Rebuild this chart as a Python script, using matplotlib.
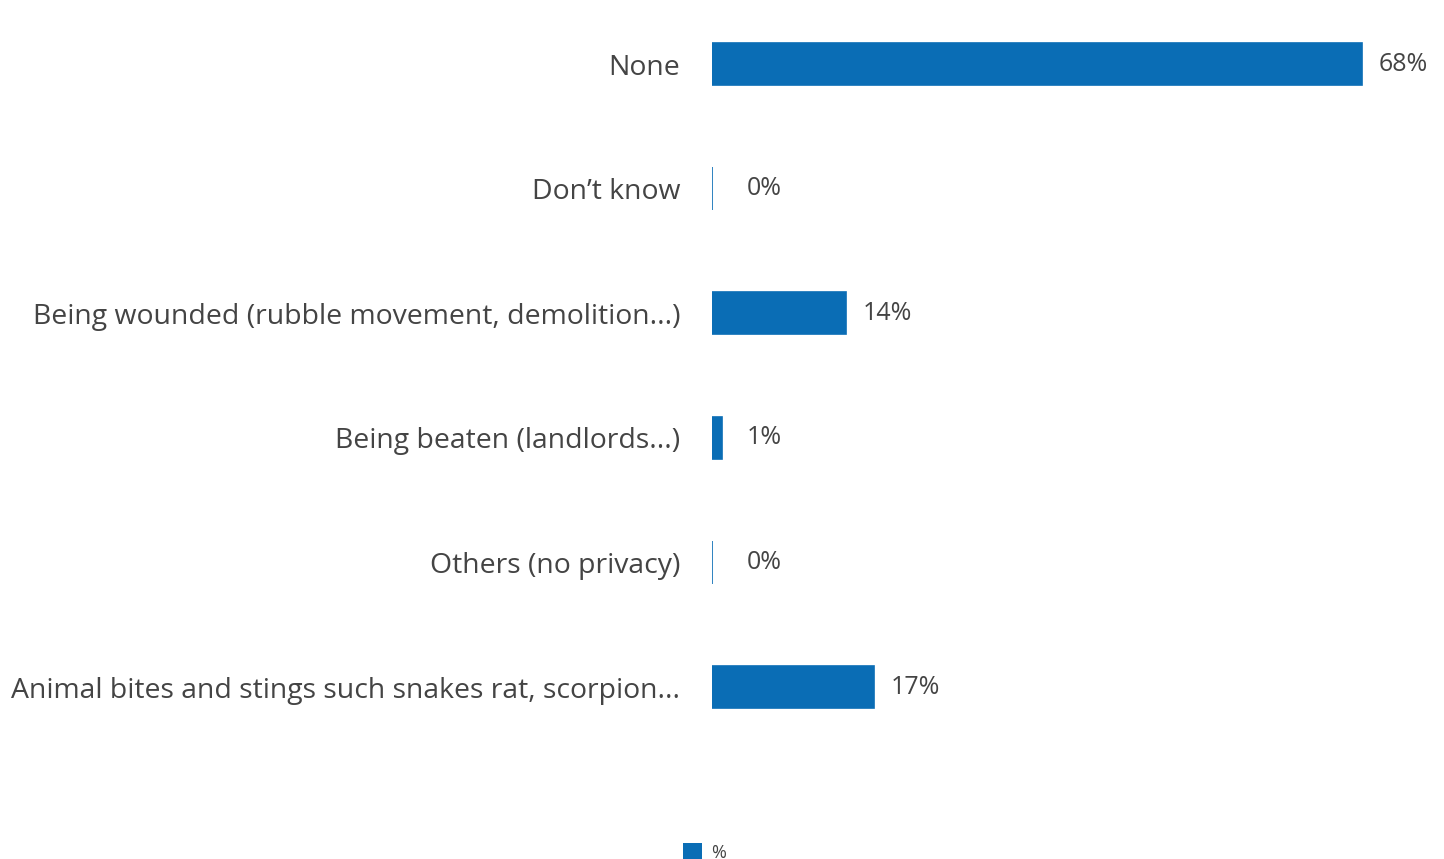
import matplotlib.pyplot as plt
from matplotlib.patches import Patch

categories = [
    'None',
    'Don\u2019t know',
    'Being wounded (rubble movement, demolition...)',
    'Being beaten (landlords...)',
    'Others (no privacy)',
    'Animal bites and stings such snakes rat, scorpion...',
]
values = [68, 0, 14, 1, 0, 17]
value_labels = ['68%', '0%', '14%', '1%', '0%', '17%']

BLUE = '#0a6db5'
GREY = '#444444'

plt.rcParams['font.family'] = ['Open Sans', 'DejaVu Sans']

fig = plt.figure(figsize=(14.44, 8.59), dpi=100)
ax = fig.add_axes([712 / 1444, 1 - 749.5 / 859, 669 / 1444, 747.8 / 859])

y = list(range(len(categories)))
ax.barh(y, values, height=0.34, color=BLUE, edgecolor=BLUE, linewidth=1.2)
ax.set_xlim(0, 70)
ax.set_ylim(len(categories) - 0.5, -0.5)

ax.set_yticks(y)
ax.set_yticklabels(categories, fontsize=20.4, color=GREY)
ax.tick_params(axis='y', length=0, pad=23)
ax.set_xticks([])
for side in ax.spines.values():
    side.set_visible(False)

# value labels sit just past the bar end, with a floor for tiny bars
for yi, v, lab in zip(y, values, value_labels):
    ax.annotate(lab, xy=(max(v, 1.9), yi), xytext=(12, 0),
                textcoords='offset points', va='center', ha='left',
                fontsize=18, color=GREY)

fig.legend(handles=[Patch(facecolor=BLUE, label='%')],
           loc='lower center', bbox_to_anchor=(0.488, -0.022),
           frameon=False, fontsize=13, handlelength=1.05, handleheight=1.05,
           handletextpad=0.5, labelcolor=GREY)

fig.savefig('out.png', dpi=100)
